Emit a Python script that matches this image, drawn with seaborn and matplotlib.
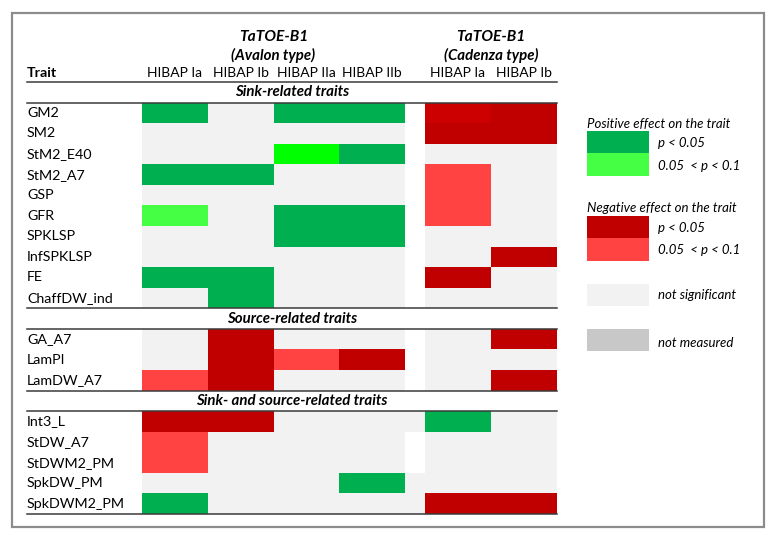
import numpy as np
import pandas as pd
import matplotlib
matplotlib.use("Agg")
import matplotlib.pyplot as plt
import matplotlib.transforms as mtransforms
from matplotlib.colors import ListedColormap
from matplotlib.patches import Rectangle
import seaborn as sns

# Traits by section
sink_traits = ["GM2", "SM2", "StM2_E40", "StM2_A7", "GSP", "GFR", "SPKLSP",
               "InfSPKLSP", "FE", "ChaffDW_ind"]
source_traits = ["GA_A7", "LamPI", "LamDW_A7"]
both_traits = ["Int3_L", "StDW_A7", "StDWM2_PM", "SpkDW_PM", "SpkDWM2_PM"]
sections = [("Sink-related traits", sink_traits),
            ("Source-related traits", source_traits),
            ("Sink- and source-related traits", both_traits)]

# effect codes: '.' not significant, 'G' positive p<0.05, 'g' positive 0.05<p<0.1,
# 'L' positive (lime), 'R' negative p<0.05, 'r' negative 0.05<p<0.1,
# 'D' negative (lighter shade), ' ' empty
avalon_cols = ["HIBAP Ia", "HIBAP Ib", "HIBAP IIa", "HIBAP IIb"]
cadenza_cols = ["HIBAP Ia", "HIBAP Ib"]

avalon_Ia  = ["G", ".", ".", "G", ".", "g", ".", ".", "G", ".",  ".", ".", "r",  "R", "r", "r", ".", "G"]
avalon_Ib  = [".", ".", ".", "G", ".", ".", ".", ".", "G", "G",  "R", "R", "R",  "R", ".", ".", ".", "."]
avalon_IIa = ["G", ".", "L", ".", ".", "G", "G", ".", ".", ".",  ".", "r", ".",  ".", ".", ".", ".", "."]
avalon_IIb = ["G", ".", "G", ".", ".", "G", "G", ".", ".", ".",  ".", "R", ".",  ".", ".", ".", "G", "."]
spacer     = [" ", " ", " ", " ", " ", " ", " ", " ", " ", " ",  " ", " ", " ",  ".", " ", " ", ".", "."]
cadenza_Ia = ["D", "R", ".", "r", "r", "r", ".", ".", "R", ".",  ".", ".", ".",  "G", ".", ".", ".", "R"]
cadenza_Ib = ["R", "R", ".", ".", ".", ".", ".", "R", ".", ".",  "R", ".", "R",  ".", ".", ".", ".", "R"]

codes = [".", "G", "g", "L", "R", "r", "D"]
palette = ["#F2F2F2", "#00B050", "#44FF44", "#00FF00", "#C00000", "#FF4343", "#CC0000"]
cmap = ListedColormap(palette)


def build(columns):
    rows, labels = [], []
    i = 0
    for title, traits in sections:
        rows.append([np.nan] * len(columns))
        labels.append("")
        for t in traits:
            rows.append([codes.index(c[i]) if c[i] != " " else np.nan for c in columns])
            labels.append(t)
            i += 1
    return pd.DataFrame(rows, index=labels)


df_av = build([avalon_Ia, avalon_Ib, avalon_IIa, avalon_IIb])
df_av.columns = avalon_cols
df_gap = build([spacer])
df_cad = build([cadenza_Ia, cadenza_Ib])
df_cad.columns = cadenza_cols

W, H = 779, 537
fig = plt.figure(figsize=(W / 100, H / 100), dpi=100)
plt.rcParams["font.family"] = ["Lato", "DejaVu Sans"]
FS = 10
FB = 10.8  # bold italic headings


def px_axes(x0, x1, y0, y1):
    return fig.add_axes([x0 / W, 1 - y1 / H, (x1 - x0) / W, (y1 - y0) / H])


top, bottom = 82, 514
ax_av = px_axes(142, 405, top, bottom)
ax_gap = px_axes(405, 425, top, bottom)
ax_cad = px_axes(425, 557, top, bottom)

kw = dict(cmap=cmap, vmin=-0.5, vmax=len(codes) - 0.5, cbar=False, linewidths=0)
sns.heatmap(df_av, ax=ax_av, yticklabels=df_av.index, **kw)
sns.heatmap(df_gap, ax=ax_gap, xticklabels=False, yticklabels=False, **kw)
sns.heatmap(df_cad, ax=ax_cad, yticklabels=False, **kw)

for ax in (ax_av, ax_cad):
    ax.xaxis.tick_top()
    ax.tick_params(axis="x", length=0, pad=2, labelsize=FS, rotation=0)
    ax.set_xlabel("")
    ax.set_ylabel("")
ax_av.tick_params(axis="y", length=0, pad=(142 - 27) * 0.72, labelsize=FS + 0.3, rotation=0)
for lbl in ax_av.get_yticklabels():
    lbl.set_ha("left")
ax_gap.set_ylabel("")

# overlay in pixel coordinates for frame, headers and legend
ov = fig.add_axes([0, 0, 1, 1], zorder=5)
ov.set_xlim(0, W)
ov.set_ylim(H, 0)
ov.axis("off")
ov.patch.set_alpha(0)

ov.add_patch(Rectangle((12, 13), 752, 514, fill=False, edgecolor="#8C8C8C", lw=1.6))

# group titles
for xc, name in [(273.5, "(Avalon type)"), (491, "(Cadenza type)")]:
    ov.text(xc, 37, "TaTOE-B1", ha="center", va="center", fontsize=FB + 0.4,
            fontweight="bold", fontstyle="italic")
    ov.text(xc, 55, name, ha="center", va="center", fontsize=FB,
            fontweight="bold", fontstyle="italic")
ov.text(27, 73, "Trait", ha="left", va="center", fontsize=FS + 0.3, fontweight="bold")

# section separators and titles, positioned by row index
tr = mtransforms.blended_transform_factory(ov.transData, ax_av.transData)
r = 0
bounds = []
for title, traits in sections:
    bounds += [r, r + 1]
    ov.text(292, r + 0.5, title, transform=tr, ha="center", va="center",
            fontsize=FB, fontweight="bold", fontstyle="italic")
    r += 1 + len(traits)
bounds.append(r)
for b in bounds:
    ov.plot([27, 557], [b, b], transform=tr, color="#3A3A3A", lw=1.1)

# legend
def legend_box(y0, y1, color):
    ov.add_patch(Rectangle((587, y0), 62, y1 - y0, facecolor=color, edgecolor="none"))

ov.text(587, 124, "Positive effect on the trait", ha="left", va="center",
        fontsize=FS - 0.5, fontstyle="italic")
legend_box(131, 153, palette[1])
legend_box(153, 176, palette[2])
ov.text(658, 143, "p < 0.05", ha="left", va="center", fontsize=FS - 0.5, fontstyle="italic")
ov.text(658, 166, "0.05  < p < 0.1", ha="left", va="center", fontsize=FS - 0.5, fontstyle="italic")

ov.text(587, 208, "Negative effect on the trait", ha="left", va="center",
        fontsize=FS - 0.5, fontstyle="italic")
legend_box(216, 238, palette[4])
legend_box(238, 261, palette[5])
ov.text(658, 228, "p < 0.05", ha="left", va="center", fontsize=FS - 0.5, fontstyle="italic")
ov.text(658, 250, "0.05  < p < 0.1", ha="left", va="center", fontsize=FS - 0.5, fontstyle="italic")

legend_box(284, 306, "#F2F2F2")
ov.text(658, 295, "not significant", ha="left", va="center", fontsize=FS - 0.5, fontstyle="italic")
legend_box(329, 351, "#C8C8C8")
ov.text(658, 343, "not measured", ha="left", va="center", fontsize=FS - 0.5, fontstyle="italic")

fig.savefig("out.png", dpi=100, facecolor="white")
